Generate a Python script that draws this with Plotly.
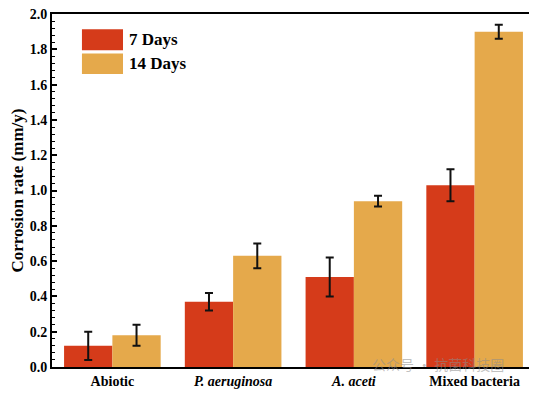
import plotly.graph_objects as go

categories = ["Abiotic", "<i>P. aeruginosa</i>", "<i>A. aceti</i>", "Mixed bacteria"]
series_names = ["7 Days", "14 Days"]
days7 = [0.12, 0.37, 0.51, 1.03]
days7_err = [0.08, 0.05, 0.11, 0.09]
days14 = [0.18, 0.63, 0.94, 1.90]
days14_err = [0.06, 0.07, 0.03, 0.04]
ytick_vals = [0.0, 0.2, 0.4, 0.6, 0.8, 1.0, 1.2, 1.4, 1.6, 1.8, 2.0]
ytick_text = ["0.0", "0.2", "0.4", "0.6", "0.8", "1.0", "1.2", "1.4", "1.6", "1.8", "2.0"]

font_family = "Liberation Serif, Times New Roman, serif"
red = "#D53B1A"
orange = "#E5A94B"

fig = go.Figure()
fig.add_trace(go.Bar(
    x=categories, y=days7, name=series_names[0], marker_color=red,
    marker_line_width=0,
    error_y=dict(type="data", array=days7_err, color="#111111", thickness=2, width=4),
))
fig.add_trace(go.Bar(
    x=categories, y=days14, name=series_names[1], marker_color=orange,
    marker_line_width=0,
    error_y=dict(type="data", array=days14_err, color="#111111", thickness=2, width=4),
))

fig.update_layout(
    width=529, height=385,
    barmode="group", bargap=0.2, bargroupgap=0,
    plot_bgcolor="white", paper_bgcolor="white",
    margin=dict(l=44, r=2, t=6, b=26),
    font=dict(family=font_family, size=14, color="black"),
    showlegend=False,
)
fig.update_xaxes(
    range=[-0.5, 3.5], showline=True, linecolor="black", linewidth=2, mirror=True,
    ticks="", showgrid=False,
    tickfont=dict(family=font_family, size=14, color="black", weight="bold"),
)
fig.update_yaxes(
    range=[0, 2.0005], tickvals=ytick_vals, ticktext=ytick_text,
    ticklabeloverflow="allow", automargin="left+right",
    showline=True, linecolor="black", linewidth=2, mirror=True,
    ticks="inside", ticklen=5, tickwidth=1.5, tickcolor="black",
    minor=dict(ticks="inside", ticklen=3, tickwidth=1, tickcolor="black", dtick=0.04),
    showgrid=False, zeroline=False,
    tickfont=dict(family=font_family, size=14, color="black", weight="bold"),
    title=dict(text="Corrosion rate (mm/y)", standoff=5,
               font=dict(family=font_family, size=17, color="black", weight="bold")),
)

# Legend drawn as swatches + labels (paper coordinates)
legend_rows = [(0.897, 0.957, red, 0.927), (0.830, 0.888, orange, 0.859)]
for (y0, y1, col, ytxt), name in zip(legend_rows, series_names):
    fig.add_shape(type="rect", xref="paper", yref="paper", x0=0.062, x1=0.147,
                  y0=y0, y1=y1, fillcolor=col, line_width=0)
    fig.add_annotation(text=name, xref="paper", yref="paper", x=0.155, y=ytxt,
                       xanchor="left", yanchor="middle", showarrow=False,
                       font=dict(family=font_family, size=17, color="black", weight="bold"))

fig.add_annotation(
    text="公众号 · 抗菌科技圈", x=0.80, y=0.008, xref="paper", yref="paper",
    xanchor="center", yanchor="middle", showarrow=False,
    font=dict(family="Noto Sans CJK SC", size=14, color="rgba(140,140,140,0.55)"),
)

fig.write_html("out.html")
